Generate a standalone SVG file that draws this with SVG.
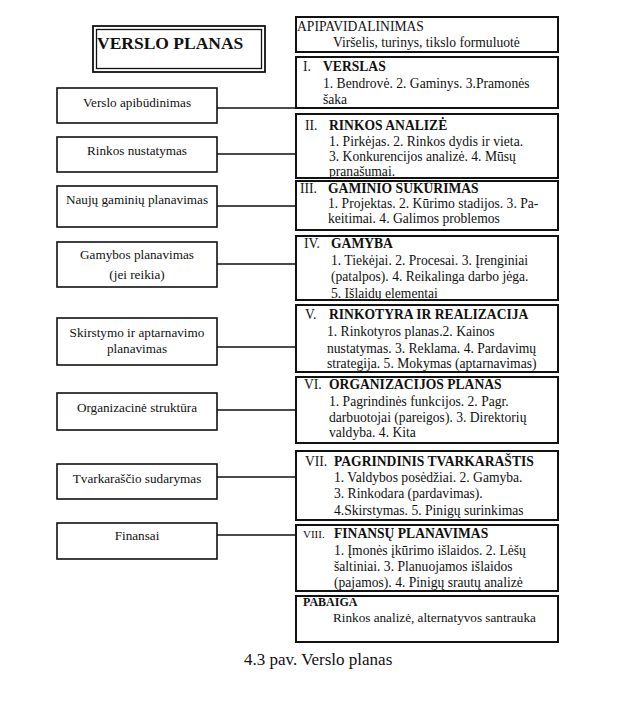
<svg xmlns="http://www.w3.org/2000/svg" width="623" height="707" viewBox="0 0 623 707">
<style>
text{font-family:"Liberation Serif","Times New Roman",serif;font-size:13.6px;fill:#111}
.l{font-size:13.2px}
.b{font-weight:bold}
.c{text-anchor:middle}
.lb{fill:#fff;stroke:#111;stroke-width:1.6}
.rb{fill:#fff;stroke:#111;stroke-width:2}
.cn{stroke:#111;stroke-width:1.5;fill:none}
</style>
<rect width="623" height="707" fill="#fff"/>
<g id="title">
<rect x="93" y="26" width="172" height="46" fill="#fff" stroke="#111" stroke-width="1.8"/>
<rect x="96.5" y="29.5" width="165" height="39" fill="none" stroke="#111" stroke-width="1.3"/>
<text x="97" y="49" class="b" style="font-size:17.5px">VERSLO PLANAS</text>
</g>
<g id="connectors">
<path class="cn" d="M217 108H296M217 154H296M217 206H296M217 264H296M217 347H296M217 410H296M217 477H296M217 535H296"/>
</g>
<g id="left1"><rect class="lb" x="57" y="88" width="160" height="35"/><text x="137" y="107" class="c l">Verslo apibūdinimas</text></g>
<g id="left2"><rect class="lb" x="57" y="137" width="160" height="35"/><text x="137" y="155" class="c l">Rinkos nustatymas</text></g>
<g id="left3"><rect class="lb" x="57" y="186" width="160" height="41"/><text x="137" y="204" class="c l">Naujų gaminių planavimas</text></g>
<g id="left4"><rect class="lb" x="57" y="242" width="160" height="45"/><text x="137" y="259" class="c l">Gamybos planavimas</text><text x="137" y="279" class="c l">(jei reikia)</text></g>
<g id="left5"><rect class="lb" x="57" y="318" width="160" height="47"/><text x="137" y="337" class="c l">Skirstymo ir aptarnavimo</text><text x="137" y="353" class="c l">planavimas</text></g>
<g id="left6"><rect class="lb" x="57" y="393" width="160" height="37"/><text x="137" y="412" class="c l">Organizacinė struktūra</text></g>
<g id="left7"><rect class="lb" x="57" y="464" width="160" height="35"/><text x="137" y="483" class="c l">Tvarkaraščio sudarymas</text></g>
<g id="left8"><rect class="lb" x="57" y="523" width="160" height="36"/><text x="137" y="540" class="c l">Finansai</text></g>
<g id="apipavidalinimas"><rect class="rb" x="296" y="17" width="262" height="35" stroke-width="1.6"/><text x="297" y="31">APIPAVIDALINIMAS</text><text x="333" y="47">Viršelis, turinys, tikslo formuluotė</text></g>
<g id="sec1"><rect class="rb" x="296" y="57" width="262" height="51"/><text x="303" y="71">I.</text><text x="323" y="71" class="b">VERSLAS</text><text x="323" y="88">1. Bendrovė. 2. Gaminys. 3.Pramonės</text><text x="323" y="104">šaka</text></g>
<g id="sec2"><rect class="rb" x="296" y="114" width="262" height="64"/><text x="305" y="130">II.</text><text x="329" y="130" class="b">RINKOS ANALIZĖ</text><text x="329" y="146">1. Pirkėjas. 2. Rinkos dydis ir vieta.</text><text x="329" y="161">3. Konkurencijos analizė. 4. Mūsų</text><text x="329" y="176">pranašumai.</text></g>
<g id="sec3"><rect class="rb" x="296" y="181" width="262" height="49"/><text x="300" y="193">III.</text><text x="328" y="193" class="b">GAMINIO SUKŪRIMAS</text><text x="328" y="208">1. Projektas. 2. Kūrimo stadijos. 3. Pa-</text><text x="328" y="223">keitimai. 4. Galimos problemos</text></g>
<g id="sec4"><rect class="rb" x="296" y="236" width="262" height="64"/><text x="304" y="248">IV.</text><text x="331" y="248" class="b">GAMYBA</text><text x="331" y="265">1. Tiekėjai. 2. Procesai. 3. Įrenginiai</text><text x="331" y="281">(patalpos). 4. Reikalinga darbo jėga.</text><text x="331" y="298">5. Išlaidų elementai</text></g>
<g id="sec5"><rect class="rb" x="296" y="305" width="262" height="67"/><text x="305" y="319">V.</text><text x="329" y="319" class="b">RINKOTYRA IR REALIZACIJA</text><text x="327" y="336">1. Rinkotyros planas.2. Kainos</text><text x="327" y="353">nustatymas. 3. Reklama. 4. Pardavimų</text><text x="327" y="368">strategija. 5. Mokymas (aptarnavimas)</text></g>
<g id="sec6"><rect class="rb" x="296" y="377" width="262" height="66"/><text x="304" y="389">VI.</text><text x="329" y="389" class="b">ORGANIZACIJOS PLANAS</text><text x="329" y="406">1. Pagrindinės funkcijos. 2. Pagr.</text><text x="329" y="422">darbuotojai (pareigos). 3. Direktorių</text><text x="329" y="437">valdyba. 4. Kita</text></g>
<g id="sec7"><rect class="rb" x="296" y="451" width="262" height="69"/><text x="305" y="466">VII.</text><text x="334" y="466" class="b">PAGRINDINIS TVARKARAŠTIS</text><text x="334" y="482">1. Valdybos posėdžiai. 2. Gamyba.</text><text x="334" y="498">3. Rinkodara (pardavimas).</text><text x="334" y="515">4.Skirstymas. 5. Pinigų surinkimas</text></g>
<g id="sec8"><rect class="rb" x="296" y="525" width="262" height="66"/><text x="303" y="538" style="font-size:11px">VIII.</text><text x="334" y="538" class="b">FINANSŲ PLANAVIMAS</text><text x="334" y="555">1. Įmonės įkūrimo išlaidos. 2. Lėšų</text><text x="334" y="571">šaltiniai. 3. Planuojamos išlaidos</text><text x="334" y="587">(pajamos). 4. Pinigų srautų analizė</text></g>
<g id="pabaiga"><rect class="rb" x="296" y="596" width="262" height="46"/><text x="303" y="606" class="b" style="font-size:12px">PABAIGA</text><text x="333" y="622" style="font-size:13.2px">Rinkos analizė, alternatyvos santrauka</text></g>
<text x="244" y="665" style="font-size:17px">4.3 pav. Verslo planas</text>
</svg>
